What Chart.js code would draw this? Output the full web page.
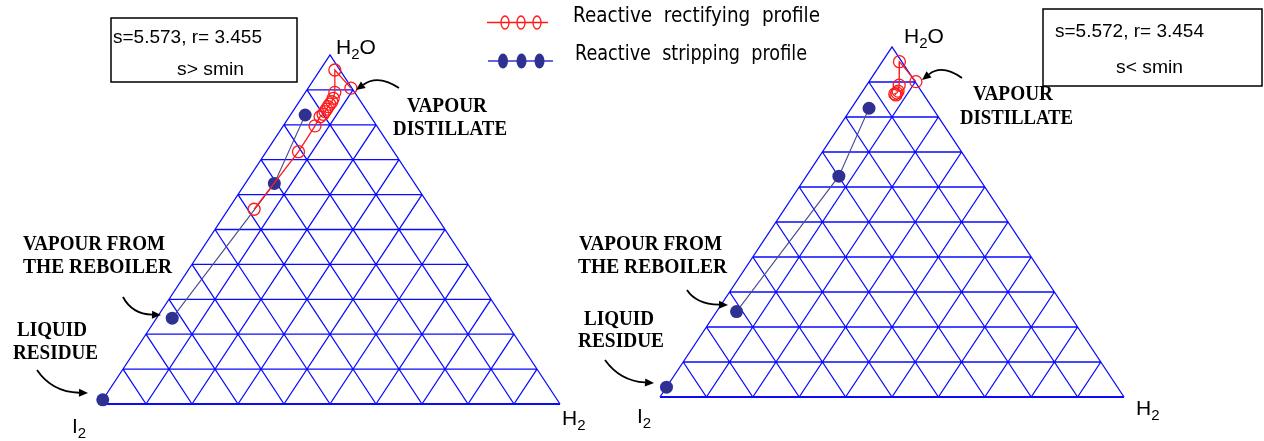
<!DOCTYPE html>
<html>
<head>
<meta charset="utf-8">
<script src="https://cdn.jsdelivr.net/npm/chart.js@4.4.1/dist/chart.umd.min.js"></script>
<style>
  html, body { margin: 0; padding: 0; background: #fff; }
  #wrap { position: relative; width: 1264px; height: 441px; }
  #wrap canvas { position: absolute; left: 0; top: 0; }
</style>
</head>
<body>
<div id="wrap">
  <canvas id="left" width="1264" height="441"></canvas>
  <canvas id="right" width="1264" height="441"></canvas>
</div>
<script>
// mole fractions; I2 is whatever is left
const gridFractions = [0.1, 0.2, 0.3, 0.4, 0.5, 0.6, 0.7, 0.8, 0.9];

const leftRectH2O = [0.905, 0.957, 0.893, 0.876, 0.866, 0.859, 0.852, 0.845, 0.838, 0.830, 0.823, 0.797, 0.723, 0.558];
const leftRectH2  = [0.093, 0.032, 0.064, 0.069, 0.071, 0.070, 0.070, 0.070, 0.070, 0.070, 0.067, 0.069, 0.070, 0.056];
const leftStripH2O = [0.012, null, 0.246, 0.632, 0.828];
const leftStripH2  = [0.000, null, 0.034, 0.063, 0.032];

const rightRectH2O = [0.901, 0.958, 0.891, 0.874, 0.869, 0.866, 0.863];
const rightRectH2  = [0.101, 0.037, 0.070, 0.076, 0.076, 0.073, 0.077];
const rightStripH2O = [0.028, null, 0.244, 0.631, 0.825];
const rightStripH2  = [0.000, null, 0.043, 0.070, 0.038];

const leftParams = ['s=5.573, r= 3.455', 's> smin'];
const rightParams = ['s=5.572, r= 3.454', 's< smin'];
const legendLabels = ['Reactive  rectifying  profile', 'Reactive  stripping  profile'];

const RED = '#ff1a1a';
const NAVY = '#2e3192';
const GRID = '#0a0aff';
const SERIF = 'bold 20px "Liberation Serif", "DejaVu Serif", serif';
const SANS = '"Liberation Sans", Arial, sans-serif';

// ternary (H2, H2O) -> triangle coordinates, I2 bottom-left, H2 bottom-right, H2O apex
function toPoints(h2o, h2) {
  return h2o.map((v, i) => v === null ? { x: 0, y: null } : { x: h2[i] + v / 2, y: v });
}

function gridPoints() {
  const pts = [];
  const gap = { x: 0, y: null };
  gridFractions.forEach(f => {
    // constant H2O
    pts.push({ x: f / 2, y: f }, { x: 1 - f / 2, y: f }, gap);
    // constant H2
    pts.push({ x: f, y: 0 }, { x: f + (1 - f) / 2, y: 1 - f }, gap);
    // constant I2
    pts.push({ x: 1 - f, y: 0 }, { x: (1 - f) / 2, y: 1 - f }, gap);
  });
  pts.push({ x: 0, y: 0 }, { x: 0.5, y: 1 }, { x: 1, y: 0 });
  return pts;
}

function fitText(ctx, text, x, y, width) {
  const w = ctx.measureText(text).width;
  ctx.save();
  ctx.translate(x, y);
  ctx.scale(width / w, 1);
  ctx.fillText(text, 0, 0);
  ctx.restore();
}

function drawArrow(ctx, a) {
  const [sx, sy, cx, cy, ex, ey] = a;
  const ang = Math.atan2(ey - cy, ex - cx);
  const len = 9, hw = 4;
  const bx = ex - Math.cos(ang) * len, by = ey - Math.sin(ang) * len;
  ctx.beginPath();
  ctx.moveTo(sx, sy);
  ctx.quadraticCurveTo(cx, cy, bx, by);
  ctx.lineWidth = 1.8;
  ctx.strokeStyle = '#000';
  ctx.stroke();
  ctx.beginPath();
  ctx.moveTo(ex, ey);
  ctx.lineTo(bx + Math.sin(ang) * hw, by - Math.cos(ang) * hw);
  ctx.lineTo(bx - Math.sin(ang) * hw, by + Math.cos(ang) * hw);
  ctx.closePath();
  ctx.fillStyle = '#000';
  ctx.fill();
}

function drawSubLabel(ctx, parts, x, y) {
  let cx = x;
  parts.forEach(([t, sub]) => {
    ctx.font = (sub ? '15px ' : '21px ') + SANS;
    const dy = sub ? 7 : 0;
    ctx.fillText(t, cx, y + dy);
    cx += ctx.measureText(t).width;
  });
}

const annotations = {
  id: 'annotations',
  afterDraw(chart, args, o) {
    const ctx = chart.ctx;
    ctx.save();
    ctx.textBaseline = 'middle';
    ctx.textAlign = 'left';
    ctx.fillStyle = '#000';

    // parameter box
    ctx.lineWidth = 1.5;
    ctx.strokeStyle = '#000';
    ctx.strokeRect(...o.box);
    ctx.font = '19px ' + SANS;
    o.boxText.forEach(t => fitText(ctx, t.text, t.x, t.y, t.w));

    // bold serif notes
    ctx.font = SERIF;
    o.notes.forEach(t => fitText(ctx, t.text, t.x, t.y, t.w));

    // vertex names
    o.vertices.forEach(v => drawSubLabel(ctx, v.parts, v.x, v.y));

    o.arrows.forEach(a => drawArrow(ctx, a));

    if (o.legend) {
      const L = o.legend;
      // rectifying row
      ctx.strokeStyle = RED;
      ctx.lineWidth = 1.3;
      ctx.beginPath();
      ctx.moveTo(487, 22.5); ctx.lineTo(548, 22.5);
      ctx.stroke();
      [505, 521, 537].forEach(cx => {
        ctx.beginPath();
        ctx.ellipse(cx, 22.5, 4, 6.5, 0, 0, Math.PI * 2);
        ctx.stroke();
      });
      // stripping row
      ctx.strokeStyle = '#3333cc';
      ctx.beginPath();
      ctx.moveTo(488, 61); ctx.lineTo(553, 61);
      ctx.stroke();
      ctx.fillStyle = NAVY;
      [503, 521.5, 539.5].forEach(cx => {
        ctx.beginPath();
        ctx.ellipse(cx, 61, 5, 7.5, 0, 0, Math.PI * 2);
        ctx.fill();
      });
      ctx.fillStyle = '#000';
      ctx.font = '21px "DejaVu Sans", "Noto Sans", sans-serif';
      fitText(ctx, L[0], 573, 17, 247);
      fitText(ctx, L[1], 575, 55, 232);
    }
    ctx.restore();
  }
};

function makeChart(id, padding, rectH2O, rectH2, stripH2O, stripH2, ann) {
  return new Chart(document.getElementById(id), {
    type: 'scatter',
    data: {
      datasets: [
        {
          label: 'Reactive rectifying profile',
          data: toPoints(rectH2O, rectH2),
          showLine: true,
          borderColor: RED,
          borderWidth: 1.3,
          pointRadius: 6,
          pointBorderWidth: 1.3,
          pointBorderColor: RED,
          pointBackgroundColor: 'rgba(0,0,0,0)',
          clip: false,
          order: 0
        },
        {
          label: 'Reactive stripping profile',
          data: toPoints(stripH2O, stripH2),
          showLine: true,
          spanGaps: false,
          borderColor: '#4a4a8c',
          borderWidth: 1.1,
          pointRadius: 6.5,
          pointBorderWidth: 0,
          pointBackgroundColor: NAVY,
          clip: false,
          order: 1
        },
        {
          label: 'grid',
          data: gridPoints(),
          showLine: true,
          spanGaps: false,
          borderColor: GRID,
          borderWidth: 1.3,
          pointRadius: 0,
          clip: false,
          order: 5
        },
        {
          label: 'base',
          data: [{ x: 0, y: 0 }, { x: 1, y: 0 }],
          showLine: true,
          borderColor: GRID,
          borderWidth: 2,
          pointRadius: 0,
          clip: false,
          order: 4
        }
      ]
    },
    options: {
      responsive: false,
      devicePixelRatio: 1,
      animation: false,
      layout: { padding },
      scales: {
        x: { type: 'linear', min: 0, max: 1, display: false },
        y: { type: 'linear', min: 0, max: 1, display: false }
      },
      plugins: {
        legend: { display: false },
        tooltip: { enabled: false },
        annotations: ann
      }
    },
    plugins: [annotations]
  });
}

makeChart('left', { left: 100, right: 704, top: 55, bottom: 37 },
  leftRectH2O, leftRectH2, leftStripH2O, leftStripH2, {
    box: [111, 18, 186, 64],
    boxText: [
      { text: leftParams[0], x: 113, y: 38, w: 149 },
      { text: leftParams[1], x: 177, y: 70, w: 67 }
    ],
    notes: [
      { text: 'VAPOUR', x: 407, y: 107, w: 80 },
      { text: 'DISTILLATE', x: 393, y: 130, w: 114 },
      { text: 'VAPOUR FROM', x: 23, y: 245, w: 142 },
      { text: 'THE REBOILER', x: 23, y: 268, w: 149 },
      { text: 'LIQUID', x: 17, y: 331, w: 70 },
      { text: 'RESIDUE', x: 13, y: 354, w: 85 }
    ],
    vertices: [
      { parts: [['H', false], ['2', true], ['O', false]], x: 336, y: 48 },
      { parts: [['I', false], ['2', true]], x: 72, y: 427 },
      { parts: [['H', false], ['2', true]], x: 562, y: 419 }
    ],
    arrows: [
      [399, 88, 378, 74, 356, 90],
      [123, 297, 132, 314, 161, 315],
      [37, 370, 52, 392, 88, 393]
    ],
    legend: legendLabels
  });

makeChart('right', { left: 660, right: 140, top: 47, bottom: 44 },
  rightRectH2O, rightRectH2, rightStripH2O, rightStripH2, {
    box: [1043, 9, 219, 77],
    boxText: [
      { text: rightParams[0], x: 1055, y: 32, w: 149 },
      { text: rightParams[1], x: 1116, y: 68, w: 67 }
    ],
    notes: [
      { text: 'VAPOUR', x: 973, y: 95, w: 80 },
      { text: 'DISTILLATE', x: 960, y: 119, w: 113 },
      { text: 'VAPOUR FROM', x: 579, y: 245, w: 143 },
      { text: 'THE REBOILER', x: 578, y: 268, w: 149 },
      { text: 'LIQUID', x: 584, y: 320, w: 70 },
      { text: 'RESIDUE', x: 578, y: 342, w: 86 }
    ],
    vertices: [
      { parts: [['H', false], ['2', true], ['O', false]], x: 904, y: 37 },
      { parts: [['I', false], ['2', true]], x: 637, y: 417 },
      { parts: [['H', false], ['2', true]], x: 1136, y: 409 }
    ],
    arrows: [
      [962, 78, 942, 64, 922, 80],
      [687, 290, 696, 304, 728, 305],
      [605, 360, 620, 381, 654, 383]
    ],
    legend: null
  });
</script>
</body>
</html>
